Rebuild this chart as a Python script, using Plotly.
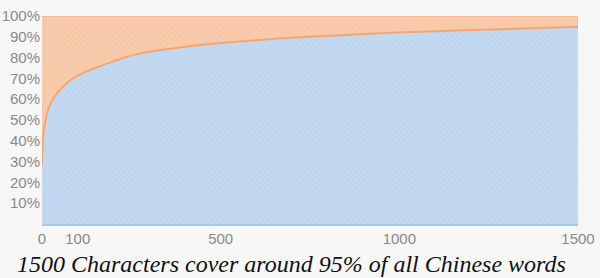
import plotly.graph_objects as go

chars = [0, 4, 13, 27, 55, 92, 148, 190, 227, 270, 322, 390, 470, 600, 723, 850, 975, 1100, 1255, 1350, 1500]
coverage = [28, 43, 52.5, 59, 65.4, 70.6, 75, 77.6, 79.8, 81.8, 83.4, 85.0, 86.5, 88.4, 89.8, 90.9, 91.9, 92.7, 93.5, 94.0, 94.8]
total = [100] * len(chars)

x_ticks = [0, 100, 500, 1000, 1500]
y_ticks = [10, 20, 30, 40, 50, 60, 70, 80, 90, 100]
y_labels = [f"{v}%" for v in y_ticks]
title = "1500 Characters cover around 95% of all Chinese words"

fig = go.Figure()
fig.add_trace(go.Scatter(
    x=chars, y=total, mode="lines", fill="tozeroy",
    line=dict(color="#f6b690", width=2),
    fillcolor="#f8c8a8",
    fillpattern=dict(shape="x", size=4, solidity=0.12, fgcolor="#efb690", bgcolor="#f9caab"),
    hoverinfo="skip", showlegend=False,
))
fig.add_trace(go.Scatter(
    x=chars, y=coverage, mode="lines", fill="tozeroy",
    line=dict(color="#f4a677", width=2, shape="spline", smoothing=0.6),
    fillcolor="#c0d7ef",
    fillpattern=dict(shape="x", size=4, solidity=0.12, fgcolor="#aac8e8", bgcolor="#c2d9f0"),
    hoverinfo="skip", showlegend=False,
))

fig.update_layout(
    width=600, height=278,
    margin=dict(l=42, r=22, t=16, b=54),
    paper_bgcolor="#f7f7f7", plot_bgcolor="#f7f7f7",
    font=dict(family="Liberation Sans, Arial, sans-serif", color="#8a8a8a", size=15),
    xaxis=dict(range=[0, 1500], tickvals=x_ticks, showgrid=False, zeroline=False,
               showline=True, linecolor="#a9c9ea", linewidth=2, automargin=False,
               ticks="", ticklabelstandoff=0, tickfont=dict(size=15, color="#8a8a8a")),
    yaxis=dict(range=[0, 100], tickvals=y_ticks, ticktext=y_labels, showgrid=False,
               zeroline=False, showline=False, ticks="", ticklabelstandoff=1, automargin=False,
               tickfont=dict(size=15, color="#8a8a8a")),
    annotations=[dict(
        text=title, xref="paper", yref="paper", x=-0.05, y=-0.19,
        xanchor="left", yanchor="middle", showarrow=False,
        font=dict(family="Liberation Serif, Georgia, serif", size=24, color="#111", style="italic"),
    )],
)

fig.write_html("out.html")
